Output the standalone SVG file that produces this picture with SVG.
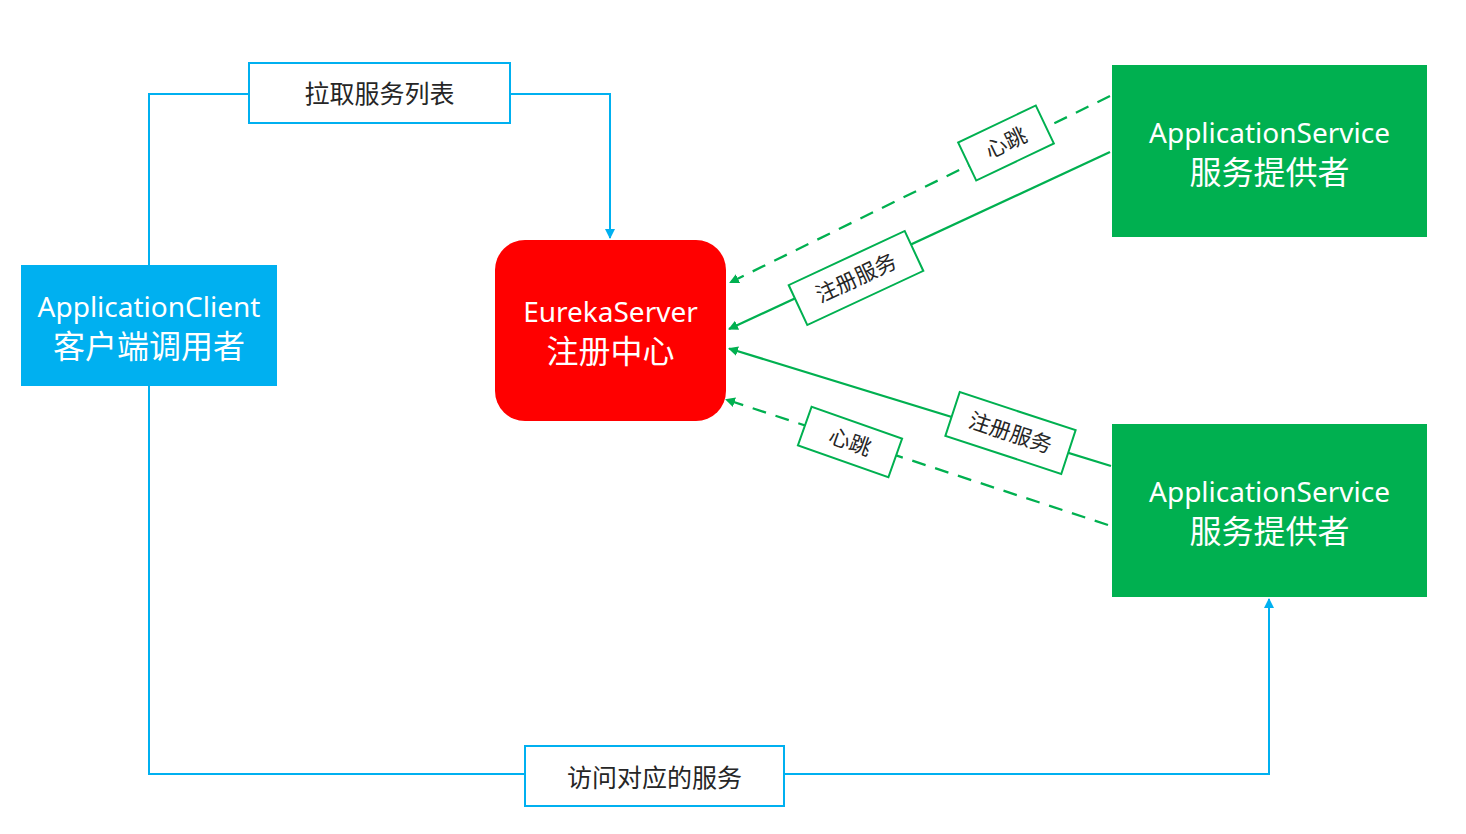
<svg xmlns="http://www.w3.org/2000/svg" width="1466" height="834" viewBox="0 0 1466 834">
<defs>
<style>
.node-t{font-family:"Noto Sans","Noto Sans CJK SC",sans-serif;fill:#ffffff;text-anchor:middle}
.lat{font-size:28px}
.cjk{font-family:"Noto Sans CJK SC",sans-serif;font-size:32px}
.lbl{font-family:"Noto Sans CJK SC",sans-serif;fill:#262626;text-anchor:middle;font-size:25px}
.lbl-s{font-family:"Noto Sans CJK SC",sans-serif;fill:#262626;text-anchor:middle;font-size:21.5px}
.blue{fill:none;stroke:#00B0F0;stroke-width:2}
.blue-box{fill:#ffffff;stroke:#00B0F0;stroke-width:2}
.green{fill:none;stroke:#00B050;stroke-width:2.3}
.dash{stroke-dasharray:14 10}
.green-box{fill:#ffffff;stroke:#00B050;stroke-width:2}
</style>
<marker id="arrB" viewBox="0 0 10 10" refX="9" refY="5" markerWidth="5" markerHeight="5" orient="auto" markerUnits="strokeWidth">
<path d="M0,0 L10,5 L0,10 z" fill="#00B0F0"/>
</marker>
<marker id="arrG" viewBox="0 0 10 10" refX="9" refY="5" markerWidth="4.3" markerHeight="4.3" orient="auto" markerUnits="strokeWidth">
<path d="M0,0 L10,5 L0,10 z" fill="#00B050"/>
</marker>
</defs>
<rect width="1466" height="834" fill="#ffffff"/>

<g id="connectors">
<path class="blue" d="M149,265 V94 H249"/>
<path class="blue" d="M510,94 H610 V238" marker-end="url(#arrB)"/>
<path class="blue" d="M149,386 V774 H525"/>
<path class="blue" d="M784,774 H1269 V599" marker-end="url(#arrB)"/>
<line class="green dash" x1="1110" y1="96" x2="730" y2="282.5" marker-end="url(#arrG)"/>
<line class="green" x1="1110" y1="152" x2="729" y2="329" marker-end="url(#arrG)"/>
<line class="green" x1="1111" y1="466" x2="729" y2="348.5" marker-end="url(#arrG)"/>
<line class="green dash" x1="1108" y1="525" x2="726" y2="399.5" marker-end="url(#arrG)"/>
<g id="label-pull">
<rect class="blue-box" x="249" y="63" width="261" height="60"/>
<text class="lbl" x="379.5" y="103">拉取服务列表</text>
</g>
<g id="label-access">
<rect class="blue-box" x="525" y="746" width="259" height="60"/>
<text class="lbl" x="654.5" y="787">访问对应的服务</text>
</g>
<g id="label-hb1" transform="translate(1006,143) rotate(-25.5)">
<rect class="green-box" x="-43" y="-21" width="86" height="42"/>
<text class="lbl-s" x="0" y="7.5">心跳</text>
</g>
<g id="label-reg1" transform="translate(856,278) rotate(-25)">
<rect class="green-box" x="-64" y="-22" width="128" height="44"/>
<text class="lbl-s" x="0" y="7.5">注册服务</text>
</g>
<g id="label-reg2" transform="translate(1010.5,433) rotate(18.2)">
<rect class="green-box" x="-61" y="-23" width="122" height="46"/>
<text class="lbl-s" x="0" y="7.5">注册服务</text>
</g>
<g id="label-hb2" transform="translate(850,442) rotate(19.5)">
<rect class="green-box" x="-48" y="-20.5" width="96" height="41"/>
<text class="lbl-s" x="0" y="7.5">心跳</text>
</g>
</g>

<g id="node-client">
<rect x="21" y="265" width="256" height="121" fill="#00B0F0"/>
<text class="node-t lat" x="149" y="317">ApplicationClient</text>
<text class="node-t cjk" x="149" y="358">客户端调用者</text>
</g>

<g id="node-eureka">
<rect x="495" y="240" width="231" height="181" rx="30" ry="30" fill="#FF0000"/>
<text class="node-t lat" x="610.5" y="322">EurekaServer</text>
<text class="node-t cjk" x="610.5" y="363">注册中心</text>
</g>

<g id="node-service1">
<rect x="1112" y="65" width="315" height="172" fill="#00B050"/>
<text class="node-t lat" x="1269.5" y="143">ApplicationService</text>
<text class="node-t cjk" x="1269.5" y="184">服务提供者</text>
</g>

<g id="node-service2">
<rect x="1112" y="424" width="315" height="173" fill="#00B050"/>
<text class="node-t lat" x="1269.5" y="502">ApplicationService</text>
<text class="node-t cjk" x="1269.5" y="543">服务提供者</text>
</g>
</svg>
